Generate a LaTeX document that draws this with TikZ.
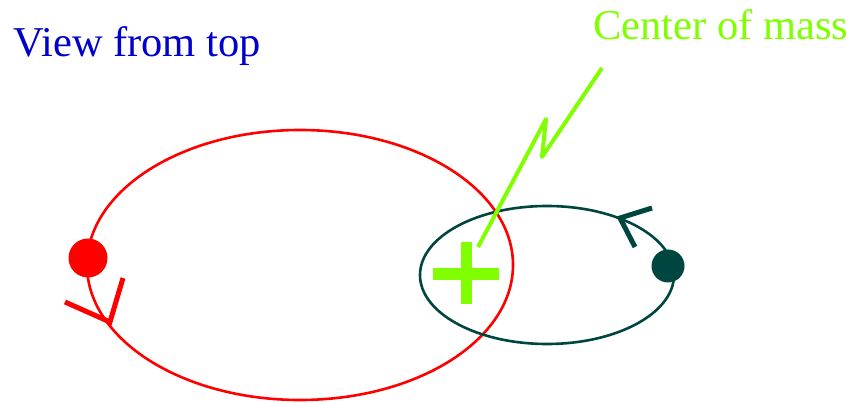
\documentclass[tikz,border=0pt]{standalone}
\usepackage{fontspec}
\setmainfont{Liberation Serif}

\definecolor{orbitred}{RGB}{255,0,0}
\definecolor{orbitteal}{RGB}{0,70,64}
\definecolor{massgreen}{RGB}{128,255,0}
\definecolor{titleblue}{RGB}{0,0,204}

\begin{document}
\begin{tikzpicture}[
	x=1pt, y=-1pt,
	bigtext/.style={font=\fontsize{42.5}{50}\selectfont, inner sep=0pt},
	orbit/.style={line width=2.6pt},
	chevron/.style={line width=5pt, line join=miter},
	body/.style={circle, inner sep=0pt, minimum size=#1},
	pointer/.style={line width=4pt, massgreen, line join=round},
]

\useasboundingbox (0,0) rectangle (849,403);

% ---- labels ----
\node[bigtext, text=titleblue, anchor=base west] (title) at (13,57) {View from top};
\node[bigtext, text=massgreen, anchor=base west] (cmlabel) at (593,40) {Center of mass};

% ---- orbits ----
\draw[orbit, orbitred] (300,265) ellipse [x radius=213pt, y radius=135pt];
\draw[orbit, orbitteal] (547,275) ellipse [x radius=127pt, y radius=69pt];

% ---- direction marks ----
\draw[chevron, orbitred] (65,302) -- (110,322) -- (123,278);
\draw[chevron, orbitteal] (652,208) -- (620,218) -- (635,247);

% ---- the two bodies ----
\node[body=39pt, fill=orbitred] (bigstar) at (88,258) {};
\node[body=33pt, fill=orbitteal] (smallstar) at (668,266) {};

% ---- centre of mass ----
\coordinate (cm) at (466,274);
\draw[line width=12pt, massgreen] ([xshift=-33pt]cm) -- ([xshift=33pt]cm);
\draw[line width=11pt, massgreen] ([yshift=32pt]cm) -- ([yshift=-30pt]cm);

\coordinate (zz1) at (602,68);
\coordinate (zz2) at (542,157);
\coordinate (zz3) at (546,119);
\coordinate (zzend) at (478,247);
\draw[pointer] (zz1) -- (zz2) -- (zz3) -- (zzend);

\end{tikzpicture}
\end{document}
